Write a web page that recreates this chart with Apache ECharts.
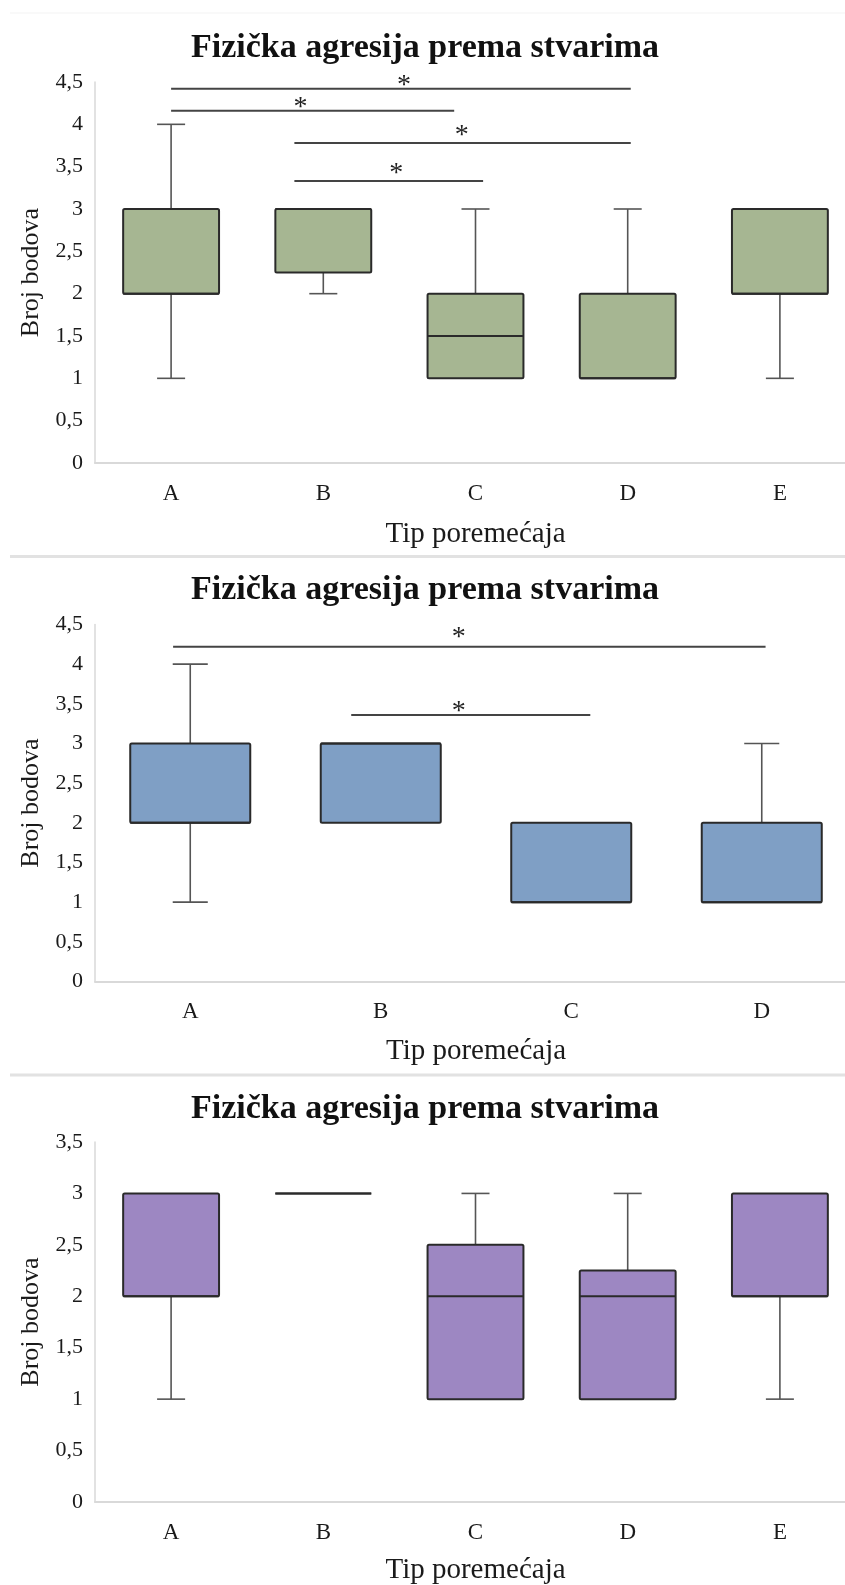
<!DOCTYPE html>
<html><head><meta charset="utf-8">
<script src="https://cdn.jsdelivr.net/npm/echarts@6/dist/echarts.min.js"></script>
<style>html,body{margin:0;padding:0;background:#fff}#c{width:845px;height:1585px}</style>
</head><body><div id="c"></div>
<script>
const titleText = 'Fizička agresija prema stvarima';
const xName = 'Tip poremećaja';
const yName = 'Broj bodova';
const cats1 = ['A', 'B', 'C', 'D', 'E'];
const cats2 = ['A', 'B', 'C', 'D'];
const cats3 = ['A', 'B', 'C', 'D', 'E'];
// each box: [min, Q1, median, Q3, max]
const box1 = [[1, 2, 2, 3, 4], [2, 2.25, 3, 3, 3], [1, 1, 1.5, 2, 3], [1, 1, 1, 2, 3], [1, 2, 2, 3, 3]];
const box2 = [[1, 2, 2, 3, 4], [2, 2, 3, 3, 3], [1, 1, 1, 2, 2], [1, 1, 1, 2, 3]];
const box3 = [[1, 2, 2, 3, 3], [3, 3, 3, 3, 3], [1, 1, 2, 2.5, 3], [1, 1, 2, 2.25, 3], [1, 2, 2, 3, 3]];
const yMax = [4.5, 4.5, 3.5];
// significance bars: [xStart, xEnd, y]  (x in category units)
const sig1 = [[0, 3.02, 4.42], [0, 1.86, 4.16], [0.81, 3.02, 3.78], [0.81, 2.05, 3.33]];
const sig2 = [[-0.09, 3.02, 4.22], [0.845, 2.1, 3.36]];
const sig3 = [];
// asterisks: [x, y]
const star1 = [[1.53, 4.49], [0.85, 4.23], [1.91, 3.90], [1.48, 3.45]];
const star2 = [[1.41, 4.37], [1.41, 3.44]];
const star3 = [];

const fills = ['#a6b692', '#7f9fc5', '#9d87c2'];
const SERIF = '"Liberation Serif", "Times New Roman", serif';

const panels = [
  {cats: cats1, box: box1, sig: sig1, star: star1, grid: {left: 95, top: 82, width: 761, height: 381}, titleTop: 28, xGap: 57},
  {cats: cats2, box: box2, sig: sig2, star: star2, grid: {left: 95, top: 624.5, width: 762, height: 357}, titleTop: 570, xGap: 55},
  {cats: cats3, box: box3, sig: sig3, star: star3, grid: {left: 95, top: 1142, width: 761, height: 360}, titleTop: 1089, xGap: 54}
];

const fmt = v => String(v).replace('.', ',');

const option = {
  backgroundColor: '#fff',
  animation: false,
  title: [], grid: [], xAxis: [], yAxis: [], series: [],
  graphic: [
    {type: 'line', shape: {x1: 10, y1: 556.5, x2: 845, y2: 556.5}, style: {stroke: '#e2e2e2', lineWidth: 3}},
    {type: 'line', shape: {x1: 10, y1: 1075, x2: 845, y2: 1075}, style: {stroke: '#e2e2e2', lineWidth: 3}},
    {type: 'line', shape: {x1: 10, y1: 13, x2: 845, y2: 13}, style: {stroke: '#f3f3f3', lineWidth: 1}}
  ]
};

panels.forEach((p, i) => {
  option.title.push({
    text: titleText, left: 191, top: p.titleTop, padding: 0,
    textStyle: {fontFamily: SERIF, fontWeight: 'bold', fontSize: 34, color: '#111', lineHeight: 40}
  });
  option.grid.push(Object.assign({containLabel: false, outerBoundsMode: 'none'}, p.grid));
  option.xAxis.push({
    type: 'category', gridIndex: i, data: p.cats,
    name: xName, nameLocation: 'middle', nameGap: p.xGap,
    nameTextStyle: {fontFamily: SERIF, fontSize: 29, color: '#1a1a1a'},
    axisLine: {onZero: false, lineStyle: {color: '#d9d9d9', width: 2}},
    axisTick: {show: false},
    axisLabel: {fontFamily: SERIF, fontSize: 23, color: '#1a1a1a', margin: 19}
  });
  option.xAxis.push({
    type: 'value', gridIndex: i, min: -0.5, max: p.cats.length - 0.5, show: false
  });
  option.yAxis.push({
    type: 'value', gridIndex: i, min: 0, max: yMax[i], interval: 0.5,
    name: yName, nameLocation: 'middle', nameGap: 51,
    nameTextStyle: {fontFamily: SERIF, fontSize: 26, color: '#1a1a1a'},
    axisLine: {show: true, onZero: false, lineStyle: {color: '#d9d9d9', width: 1.5}},
    axisTick: {show: false},
    splitLine: {show: false},
    axisLabel: {fontFamily: SERIF, fontSize: 22, color: '#1a1a1a', margin: 12, formatter: fmt}
  });
  // boxes
  option.series.push({
    type: 'custom', xAxisIndex: 2 * i, yAxisIndex: i,
    data: p.box.map((d, k) => [k].concat(d)),
    encode: {x: 0, y: [1, 2, 3, 4, 5]},
    renderItem: (params, api) => {
      const x = api.value(0);
      const band = api.size([1, 0])[0];
      const bw = band * 0.63, cw = band * 0.184;
      const pt = k => api.coord([x, api.value(k)]);
      const pMin = pt(1), pQ1 = pt(2), pMed = pt(3), pQ3 = pt(4), pMax = pt(5);
      const cx = pMin[0];
      const ch = [];
      const wStyle = {stroke: '#555', lineWidth: 1.6};
      if (api.value(5) > api.value(4)) {
        ch.push({type: 'line', shape: {x1: cx, y1: pQ3[1], x2: cx, y2: pMax[1]}, style: wStyle});
        ch.push({type: 'line', shape: {x1: cx - cw / 2, y1: pMax[1], x2: cx + cw / 2, y2: pMax[1]}, style: wStyle});
      }
      if (api.value(1) < api.value(2)) {
        ch.push({type: 'line', shape: {x1: cx, y1: pQ1[1], x2: cx, y2: pMin[1]}, style: wStyle});
        ch.push({type: 'line', shape: {x1: cx - cw / 2, y1: pMin[1], x2: cx + cw / 2, y2: pMin[1]}, style: wStyle});
      }
      ch.push({type: 'rect', shape: {x: cx - bw / 2, y: pQ3[1], width: bw, height: pQ1[1] - pQ3[1], r: 1.5},
        style: {fill: fills[i], stroke: '#2a2a2a', lineWidth: 2}});
      ch.push({type: 'line', shape: {x1: cx - bw / 2, y1: pMed[1], x2: cx + bw / 2, y2: pMed[1]},
        style: {stroke: '#2a2a2a', lineWidth: 2}});
      return {type: 'group', children: ch};
    }
  });
  // significance bars
  if (p.sig.length) {
    option.series.push({
      type: 'custom', xAxisIndex: 2 * i + 1, yAxisIndex: i,
      data: p.sig, encode: {x: [0, 1], y: 2},
      renderItem: (params, api) => {
        const a = api.coord([api.value(0), api.value(2)]);
        const b = api.coord([api.value(1), api.value(2)]);
        return {type: 'line', shape: {x1: a[0], y1: a[1], x2: b[0], y2: b[1]}, style: {stroke: '#444', lineWidth: 2}};
      }
    });
    option.series.push({
      type: 'custom', xAxisIndex: 2 * i + 1, yAxisIndex: i,
      data: p.star, encode: {x: 0, y: 1},
      renderItem: (params, api) => {
        const a = api.coord([api.value(0), api.value(1)]);
        return {type: 'text', x: a[0], y: a[1] + 3,
          style: {text: '*', textAlign: 'center', textVerticalAlign: 'middle', font: '28px ' + SERIF, fill: '#222'}};
      }
    });
  }
});

const chart = echarts.init(document.getElementById('c'), null, {renderer: 'canvas'});
chart.setOption(option);
</script>
</body></html>
